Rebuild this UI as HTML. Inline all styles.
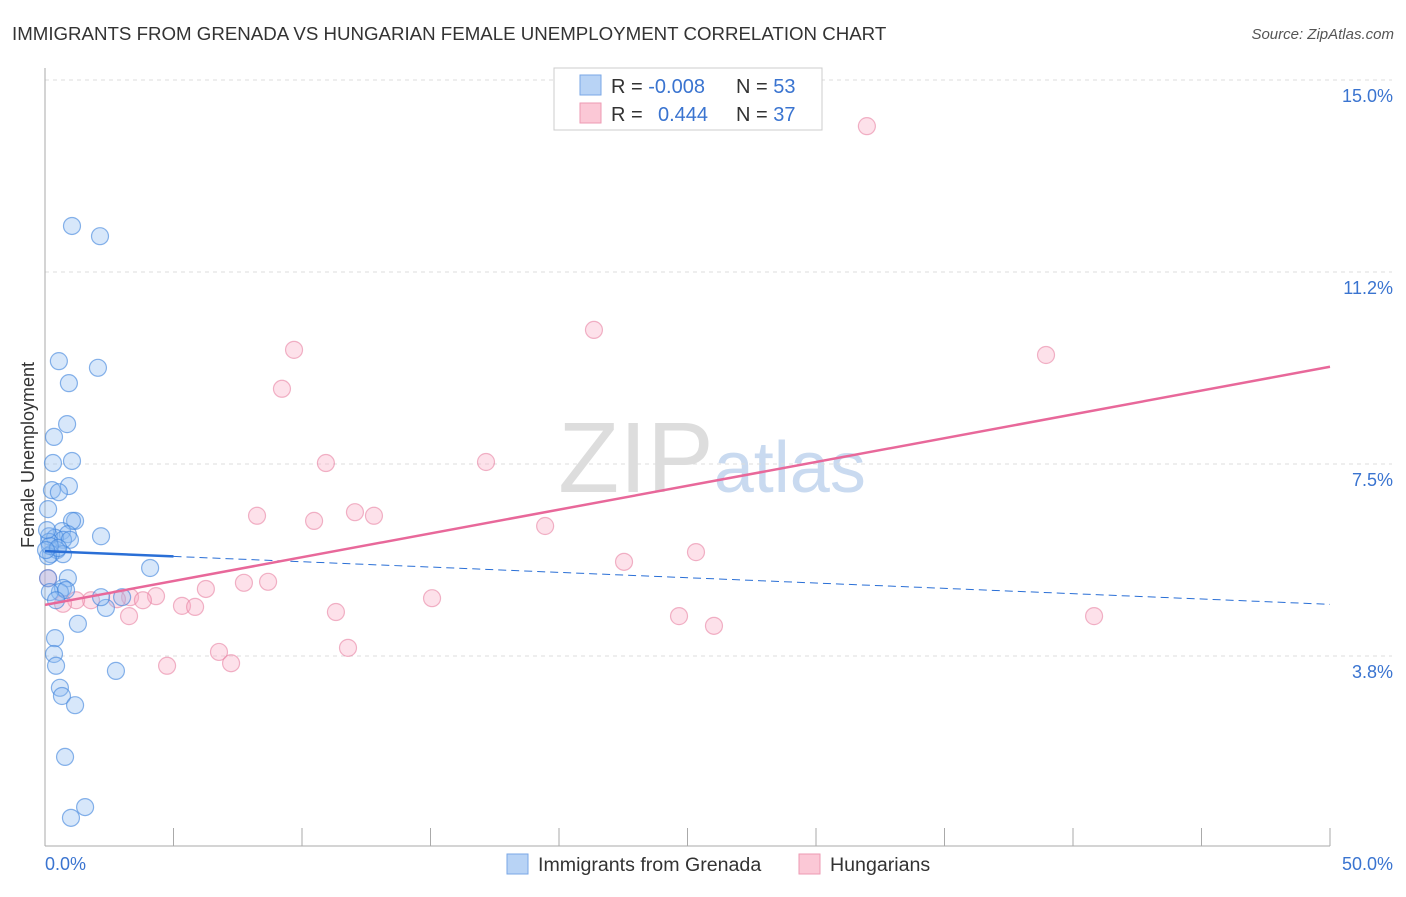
<!DOCTYPE html>
<html><head><meta charset="utf-8"><style>
body{margin:0;background:#fff;font-family:"Liberation Sans",sans-serif;}
svg text{font-family:"Liberation Sans",sans-serif;}
</style></head><body>
<svg id="c" width="1406" height="892">
<text x="12" y="40" font-size="18.7" fill="#333">IMMIGRANTS FROM GRENADA VS HUNGARIAN FEMALE UNEMPLOYMENT CORRELATION CHART</text>
<text x="1394" y="39" font-size="15" fill="#555" font-style="italic" text-anchor="end">Source: ZipAtlas.com</text>
<text x="712" y="492" font-size="100" fill="#ddd" text-anchor="middle" font-family="Liberation Serif">ZIP<tspan fill="#c9daf0" font-family="Liberation Sans" font-size="72">atlas</tspan></text>
<text transform="translate(34,455) rotate(-90)" font-size="18" fill="#333" text-anchor="middle">Female Unemployment</text>
<g id="grid"></g><g id="pts"></g><g id="lines"></g>
<g>
<rect x="554" y="68" width="268" height="62" fill="#fff" stroke="#ccc"/>
<rect x="580" y="75" width="21" height="20" fill="#b8d3f5" stroke="#7aa7e6"/>
<rect x="580" y="103" width="21" height="20" fill="#fbc8d6" stroke="#ee9ab3"/>
<text x="611" y="93" font-size="20" fill="#333">R = <tspan fill="#3a74d0">-0.008</tspan><tspan x="736">N = </tspan><tspan fill="#3a74d0">53</tspan></text>
<text x="611" y="121" font-size="20" fill="#333">R = <tspan x="658" fill="#3a74d0">0.444</tspan><tspan x="736">N = </tspan><tspan fill="#3a74d0">37</tspan></text>
</g>
<g>
<rect x="507" y="854" width="21" height="20" fill="#b8d3f5" stroke="#7aa7e6"/>
<text x="538" y="871" font-size="19.6" fill="#333">Immigrants from Grenada</text>
<rect x="799" y="854" width="21" height="20" fill="#fbc8d6" stroke="#ee9ab3"/>
<text x="830" y="871" font-size="19.6" fill="#333">Hungarians</text>
</g>
</svg>
<script>
const yTicks=[3.75,7.5,11.25,15];
const yTickLabels=["3.8%","7.5%","11.2%","15.0%"];
const xTickLabels=["0.0%","50.0%"];
const blueX=[1.05,2.14,0.54,2.06,0.93,0.86,0.35,1.05,0.31,0.93,0.27,0.54,0.12,1.17,1.05,0.66,0.89,2.18,0.16,0.39,0.70,0.97,0.16,0.47,0.23,0.70,0.12,4.09,0.89,0.12,0.70,0.58,0.19,2.37,2.18,3.0,1.28,0.39,0.35,0.43,2.76,0.58,0.66,1.17,0.78,1.56,1.01,0.19,0.51,0.82,0.08,0.04,0.43];
const blueY=[12.11,11.91,9.47,9.34,9.04,8.24,7.99,7.52,7.48,7.03,6.95,6.91,6.58,6.35,6.35,6.15,6.09,6.05,6.05,6.02,5.98,5.98,5.94,5.78,5.70,5.70,5.66,5.43,5.23,5.23,5.04,4.96,4.96,4.65,4.86,4.86,4.34,4.06,3.75,3.52,3.42,3.09,2.93,2.75,1.74,0.76,0.55,5.86,5.82,5.00,6.17,5.78,4.80];
const pinkX=[31.98,21.36,9.69,38.95,9.22,17.16,10.93,8.25,12.06,12.80,10.47,19.46,25.33,22.53,7.74,8.68,6.26,3.31,4.32,1.79,1.21,2.80,3.81,5.33,5.84,11.32,15.06,24.67,40.82,26.03,3.27,6.77,11.79,4.75,7.24,0.70,0.12];
const pinkY=[14.06,10.08,9.69,9.59,8.93,7.5,7.48,6.45,6.52,6.45,6.35,6.25,5.74,5.55,5.14,5.16,5.02,4.86,4.88,4.80,4.80,4.82,4.80,4.69,4.67,4.57,4.84,4.49,4.49,4.30,4.49,3.79,3.87,3.52,3.57,4.73,5.23];
const blueTrend=[5.76,4.72];
const pinkTrend=[4.71,9.36];
const NS="http://www.w3.org/2000/svg";
const X=v=>45+v/50*1285, Y=v=>846-v*51.2;
function mk(t,a,p){const e=document.createElementNS(NS,t);for(const k in a)e.setAttribute(k,a[k]);p.appendChild(e);return e;}
const g=document.getElementById('grid');
yTicks.forEach((t,i)=>{
 const l=mk('line',{x1:45,x2:1392,y1:Y(t)+2,y2:Y(t)+2,stroke:'#ddd','stroke-dasharray':'4,4'},g);
 
 
 const tx=mk('text',{x:1393,y:Y(t)+2+22,'font-size':18,fill:'#3a74d0','text-anchor':'end'},g);tx.textContent=yTickLabels[i];
 
 
});
const ax=mk('line',{x1:45,x2:45,y1:68,y2:846,stroke:'#aaa'},g);


const bx=mk('line',{x1:45,x2:1330,y1:846,y2:846,stroke:'#aaa'},g);


for(let i=1;i<=10;i++){const t=mk('line',{x1:X(i*5),x2:X(i*5),y1:828,y2:846,stroke:'#aaa'},g);
 
 }
[[45,'start',0],[1393,'end',1]].forEach(([x,a,i])=>{const t=mk('text',{x:x,y:870,'font-size':18,fill:'#3a74d0','text-anchor':a},g);t.textContent=xTickLabels[i];
 
 });
const p=document.getElementById('pts');
pinkX.forEach((v,i)=>{const c=mk('circle',{cx:X(v),cy:Y(pinkY[i]),r:8.5,fill:'rgba(248,170,195,0.35)',stroke:'rgba(230,120,155,0.55)','stroke-width':1.2},p);
 
 });
blueX.forEach((v,i)=>{const c=mk('circle',{cx:X(v),cy:Y(blueY[i]),r:8.5,fill:'rgba(140,185,240,0.35)',stroke:'rgba(60,130,220,0.6)','stroke-width':1.2},p);
 
 });
const L=document.getElementById('lines');
const bAt=x=>blueTrend[0]+(blueTrend[1]-blueTrend[0])*x/50;
const b1=mk('line',{x1:X(0),y1:Y(bAt(0)),x2:X(5),y2:Y(bAt(5)),stroke:'#2a6fd6','stroke-width':2.5},L);


const b2=mk('line',{x1:X(5),y1:Y(bAt(5)),x2:X(50),y2:Y(bAt(50)),stroke:'#2a6fd6','stroke-width':1,'stroke-dasharray':'8,5'},L);


const pl=mk('line',{x1:X(0),y1:Y(pinkTrend[0]),x2:X(50),y2:Y(pinkTrend[1]),stroke:'#e8689a','stroke-width':2.5},L);


</script>
</body></html>
